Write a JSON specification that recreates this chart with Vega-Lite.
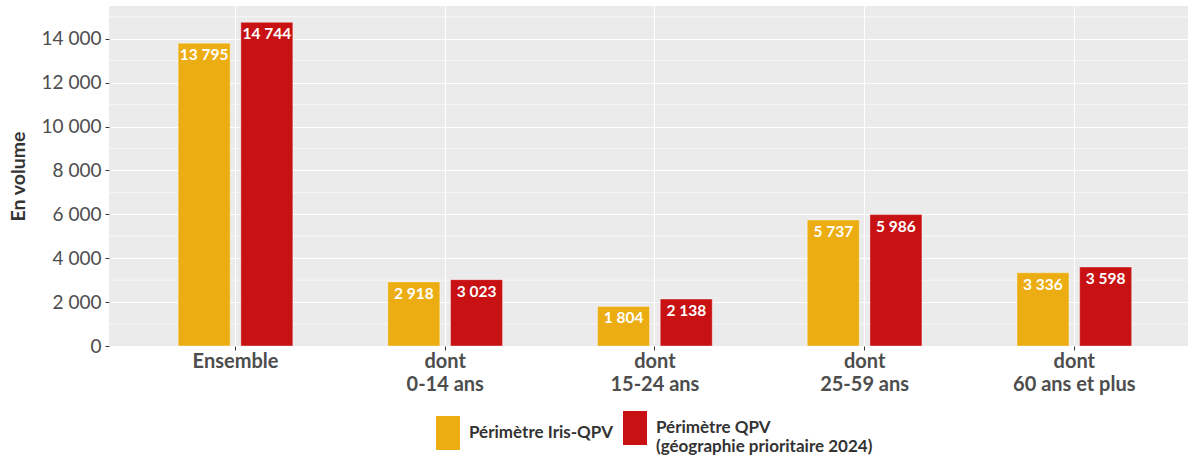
{
  "$schema": "https://vega.github.io/schema/vega-lite/v6.json",
  "width": 1079,
  "height": 340,
  "autosize": {"type": "none"},
  "padding": {"left": 109, "top": 6, "right": 0, "bottom": 112},
  "config": {
    "view": {"fill": "#EBEBEB", "stroke": null},
    "font": "Lato",
    "locale": {"number": {"decimal": ",", "thousands": "\u00a0", "grouping": [3], "currency": ["", "\u00a0€"]}},
    "axis": {"domain": false, "tickColor": "#333333", "tickSize": 4, "labelColor": "#4D4D4D", "labelFont": "Lato", "gridColor": "#FFFFFF", "gridWidth": 1.1, "gridOpacity": 1},
    "axisY": {"title": "En volume", "values": [0, 2000, 4000, 6000, 8000, 10000, 12000, 14000], "format": ",.0f", "labelFontSize": 19, "labelPadding": 4,
      "titleFont": "Lato", "titleFontSize": 19.5, "titleFontWeight": "bold", "titleColor": "#333333", "titleX": -91, "titleY": 170, "titleBaseline": "middle", "titleAngle": -90}
  },
  "data": {"values": [
    {"cat": "Ensemble", "serie": "Périmètre Iris-QPV", "value": 13795},
    {"cat": "Ensemble", "serie": "Périmètre QPV (géographie prioritaire 2024)", "value": 14744},
    {"cat": "dont 0-14 ans", "serie": "Périmètre Iris-QPV", "value": 2918},
    {"cat": "dont 0-14 ans", "serie": "Périmètre QPV (géographie prioritaire 2024)", "value": 3023},
    {"cat": "dont 15-24 ans", "serie": "Périmètre Iris-QPV", "value": 1804},
    {"cat": "dont 15-24 ans", "serie": "Périmètre QPV (géographie prioritaire 2024)", "value": 2138},
    {"cat": "dont 25-59 ans", "serie": "Périmètre Iris-QPV", "value": 5737},
    {"cat": "dont 25-59 ans", "serie": "Périmètre QPV (géographie prioritaire 2024)", "value": 5986},
    {"cat": "dont 60 ans et plus", "serie": "Périmètre Iris-QPV", "value": 3336},
    {"cat": "dont 60 ans et plus", "serie": "Périmètre QPV (géographie prioritaire 2024)", "value": 3598}
  ]},
  "layer": [
    {
      "data": {"values": [{"m": 1000}, {"m": 3000}, {"m": 5000}, {"m": 7000}, {"m": 9000}, {"m": 11000}, {"m": 13000}, {"m": 15000}]},
      "mark": {"type": "rule", "color": "#FFFFFF", "strokeWidth": 0.6},
      "encoding": {
        "y": {"field": "m", "type": "quantitative", "title": "En volume", "scale": {"domain": [0, 15490], "nice": false}}
      }
    },
    {
      "mark": {"type": "bar", "stroke": "#FFFFFF", "strokeWidth": 0.6, "strokeOpacity": 0.6},
      "encoding": {
        "x": {"field": "cat", "type": "nominal", "sort": null,
          "scale": {"paddingInner": 0, "paddingOuter": 0.0727, "align": 0.71},
          "axis": {"title": null, "grid": true, "labelAngle": 0, "labelFontSize": 20, "labelFontWeight": "bold", "labelColor": "#4D4D4D", "labelPadding": 1, "labelLineHeight": 23,
            "labelExpr": "datum.label == 'Ensemble' ? 'Ensemble' : ['dont', replace(datum.label, 'dont ', '')]"}},
        "xOffset": {"field": "serie", "type": "nominal", "scale": {"paddingInner": 0.171, "paddingOuter": 0.758}},
        "y": {"field": "value", "type": "quantitative", "title": "En volume",
          "scale": {"domain": [0, 15490], "nice": false}},
        "color": {"field": "serie", "type": "nominal",
          "scale": {"domain": ["Périmètre Iris-QPV", "Périmètre QPV (géographie prioritaire 2024)"], "range": ["#ECAD12", "#C81113"]},
          "legend": {"orient": "none", "legendX": 322, "legendY": 405, "direction": "horizontal", "title": null,
            "symbolType": "M-0.706,-1H0.706V1H-0.706Z", "symbolSize": 1156, "symbolStrokeWidth": 0, "symbolOpacity": 1,
            "labelFont": "Lato", "labelFontWeight": "bold", "labelFontSize": 17, "labelColor": "#333333", "labelOffset": 4, "labelLimit": 400, "labelLineHeight": 20,
            "columnPadding": 5, "padding": 0,
            "labelExpr": "datum.label == 'Périmètre Iris-QPV' ? datum.label : ['Périmètre QPV', '(géographie prioritaire 2024)']"}}
      }
    },
    {
      "mark": {"type": "text", "baseline": "top", "dy": 5, "color": "#FFFFFF", "font": "Lato", "fontWeight": "bold", "fontSize": 15.5},
      "encoding": {
        "x": {"field": "cat", "type": "nominal", "sort": null},
        "xOffset": {"field": "serie", "type": "nominal"},
        "y": {"field": "value", "type": "quantitative", "title": "En volume"},
        "text": {"field": "value", "type": "quantitative", "format": ",.0f"}
      }
    }
  ]
}
